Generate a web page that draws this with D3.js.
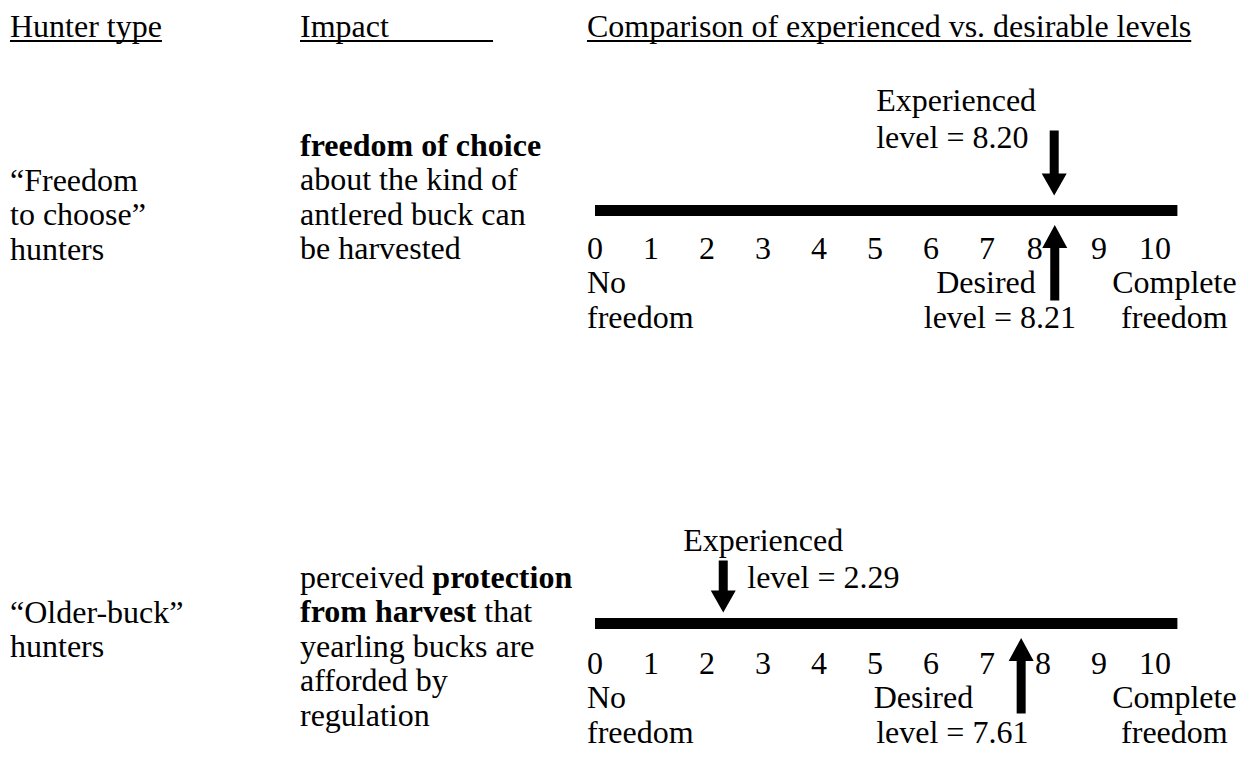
<!DOCTYPE html>
<html>
<head>
<meta charset="utf-8">
<script src="https://cdn.jsdelivr.net/npm/d3@7"></script>
<style>
    body { margin: 0; background: #fff; }
    text { font-family: "Liberation Serif", "Times New Roman", serif; font-size: 32px; fill: #000; }
</style>
</head>
<body>
<div id="chart"></div>
<script>
// ---- data ----
const headers = ["Hunter type", "Impact", "Comparison of experienced vs. desirable levels"];
const hunterTypes = [
    ["\u201CFreedom", "to choose\u201D", "hunters"],
    ["\u201COlder-buck\u201D", "hunters"]
];
// each line is a list of [text, bold]
const impacts = [
    [[["freedom of choice", true]], [["about the kind of", false]], [["antlered buck can", false]], [["be harvested", false]]],
    [[["perceived ", false], ["protection", true]], [["from harvest", true], [" that", false]],
     [["yearling bucks are", false]], [["afforded by", false]], [["regulation", false]]]
];
const experienced = [8.20, 2.29];
const desired = [8.21, 7.61];
const tickValues = [0, 1, 2, 3, 4, 5, 6, 7, 8, 9, 10];
const lowEnd = ["No", "freedom"];
const highEnd = ["Complete", "freedom"];

// ---- layout ----
const width = 1248, height = 776;
const lineH = 34.5;
const colX = [10, 300, 587];
const barY = [210.5, 623.5];
const barH = 11;
const barEnd = 10.4;
// per-row vertical offsets from the bar centre
const hunterStart = [-20, -1];
const impactStart = [-55, -36];
const expTextY = [[-100, -62.5], [-73, -36]];
const downY = [[-80, -15], [-63, -11]];
const tickOff = [48, 50];
// label offsets from the arrow, per row
const expOffsets = [[-178, -178], [-40, 24]];
const desOffsets = [[-19, -131], [-48, -145]];

const x = d3.scaleLinear().domain([0, 10]).range([595, 1155]);

const svg = d3.select("#chart")
    .append("svg")
    .attr("width", width)
    .attr("height", height);

svg.append("rect").attr("width", width).attr("height", height).attr("fill", "#fff");

// Headers with underline
const underlineW = [null, 193, null];
headers.forEach((h, i) => {
    const t = svg.append("text")
        .attr("x", colX[i])
        .attr("y", 37)
        .text(h);
    const w = underlineW[i] || t.node().getComputedTextLength();
    svg.append("line")
        .attr("x1", colX[i]).attr("x2", colX[i] + w)
        .attr("y1", 41).attr("y2", 41)
        .attr("stroke", "#000").attr("stroke-width", 2);
});

const arrowLine = d3.line();
function downArrow(g, ax, top, tip) {
    const sw = 4.5, hw = 12.5, hl = 22;
    g.append("path")
        .attr("d", arrowLine([[ax - sw, top], [ax + sw, top], [ax + sw, tip - hl], [ax + hw, tip - hl],
            [ax, tip], [ax - hw, tip - hl], [ax - sw, tip - hl]]) + "Z")
        .attr("fill", "#000");
}
function upArrow(g, ax, tip, bottom) {
    const sw = 4.5, hw = 12.5, hl = 23;
    g.append("path")
        .attr("d", arrowLine([[ax - sw, bottom], [ax + sw, bottom], [ax + sw, tip + hl], [ax + hw, tip + hl],
            [ax, tip], [ax - hw, tip + hl], [ax - sw, tip + hl]]) + "Z")
        .attr("fill", "#000");
}

barY.forEach((by, r) => {
    const g = svg.append("g").attr("class", "row");
    const tickY = by + tickOff[r];

    // hunter type
    hunterTypes[r].forEach((line, k) => {
        g.append("text").attr("x", colX[0]).attr("y", by + hunterStart[r] + k * lineH).text(line);
    });

    // impact with bold parts
    impacts[r].forEach((line, k) => {
        const t = g.append("text").attr("x", colX[1]).attr("y", by + impactStart[r] + k * lineH)
            .style("white-space", "pre");
        line.forEach(([s, b]) => {
            t.append("tspan").attr("font-weight", b ? "bold" : "normal").text(s);
        });
    });

    // the scale bar
    g.append("rect")
        .attr("x", x(0))
        .attr("y", by - barH / 2)
        .attr("width", x(barEnd) - x(0))
        .attr("height", barH)
        .attr("fill", "#000");

    // tick labels, nudged away from the desired arrow
    const dx = x(desired[r]);
    g.selectAll(".tick")
        .data(tickValues)
        .enter()
        .append("text")
        .attr("class", "tick")
        .attr("text-anchor", "middle")
        .attr("x", d => {
            const d0 = x(d) - dx;
            return Math.abs(d0) < 20 ? dx + (d0 < 0 ? -20 : 20) : x(d);
        })
        .attr("y", tickY)
        .text(d => d);

    // scale ends
    lowEnd.forEach((s, k) => {
        g.append("text").attr("x", x(0) - 8).attr("y", tickY + (k + 1) * lineH).text(s);
    });
    highEnd.forEach((s, k) => {
        g.append("text").attr("x", x(barEnd) - 3).attr("y", tickY + (k + 1) * lineH)
            .attr("text-anchor", "middle").text(s);
    });

    // experienced arrow + label
    const ex = x(experienced[r]);
    downArrow(g, ex, by + downY[r][0], by + downY[r][1]);
    g.append("text").attr("x", ex + expOffsets[r][0]).attr("y", by + expTextY[r][0]).text("Experienced");
    g.append("text").attr("x", ex + expOffsets[r][1]).attr("y", by + expTextY[r][1])
        .text(`level = ${experienced[r].toFixed(2)}`);

    // desired arrow + label
    upArrow(g, dx, by + 14.5, by + 90);
    g.append("text").attr("x", dx + desOffsets[r][0]).attr("y", tickY + lineH)
        .attr("text-anchor", "end").text("Desired");
    g.append("text").attr("x", dx + desOffsets[r][1]).attr("y", tickY + 2 * lineH)
        .text(`level = ${desired[r].toFixed(2)}`);
});
</script>
</body>
</html>
